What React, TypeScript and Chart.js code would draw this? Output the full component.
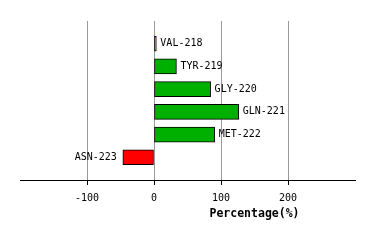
import React, { useEffect, useRef } from "react";
import { Chart, registerables } from "chart.js";

Chart.register(...registerables);

const residues = ["VAL-218", "TYR-219", "GLY-220", "GLN-221", "MET-222", "ASN-223"];
const percentages = [3.5, 33.5, 84.5, 126.5, 90.5, -46.5];
const xTicks = [-100, 0, 100, 200];
const xMin = -200;
const xMax = 300;
const axisTitle = "Percentage(%)";

const labels = ["", ...residues, ""];
const values: (number | null)[] = [null, ...percentages, null];

const barLabelPlugin = {
  id: "barLabels",
  afterDatasetsDraw(chart: any) {
    const ctx = chart.ctx;
    const meta = chart.getDatasetMeta(0);
    ctx.save();
    ctx.font = "10px 'DejaVu Sans Mono'";
    ctx.fillStyle = "#000";
    ctx.textBaseline = "middle";
    meta.data.forEach((el: any, i: number) => {
      const v = values[i];
      if (v === null || v === undefined) return;
      const txt = labels[i];
      if (v >= 0) {
        ctx.textAlign = "left";
        ctx.fillText(txt, el.x + 4, el.y);
      } else {
        ctx.textAlign = "right";
        ctx.fillText(txt, el.x - 6, el.y);
      }
    });
    ctx.restore();
  },
};

const axisTitlePlugin = {
  id: "axisTitle",
  afterDraw(chart: any) {
    const ctx = chart.ctx;
    const xs = chart.scales.x;
    const cx = (xs.getPixelForValue(0) + xs.getPixelForValue(xMax)) / 2;
    ctx.save();
    ctx.font = "bold 11.5px 'DejaVu Sans Mono'";
    ctx.fillStyle = "#000";
    ctx.textAlign = "center";
    ctx.textBaseline = "middle";
    ctx.fillText(axisTitle, cx, chart.chartArea.bottom + 34);
    ctx.restore();
  },
};

export default function App() {
  const ref = useRef<HTMLCanvasElement | null>(null);
  useEffect(() => {
    document.body.style.margin = "0";
    if (!ref.current) return;
    const chart = new Chart(ref.current, {
      type: "bar",
      data: {
        labels,
        datasets: [
          {
            data: values,
            backgroundColor: values.map((v) => (v !== null && v < 0 ? "#ff0000" : "#00b000")),
            borderColor: "#000",
            borderWidth: 1,
            borderSkipped: false,
            barThickness: 15,
          },
        ],
      },
      options: {
        indexAxis: "y",
        animation: false,
        responsive: false,
        maintainAspectRatio: false,
        layout: { padding: { left: 20, right: 19, top: 21, bottom: 0 } },
        plugins: { legend: { display: false }, tooltip: { enabled: false } },
        scales: {
          x: {
            type: "linear",
            min: xMin,
            max: xMax,
            afterBuildTicks: (scale: any) => {
              scale.ticks = xTicks.map((v) => ({ value: v }));
            },
            afterFit: (scale: any) => {
              scale.height = 60;
            },
            grid: {
              color: "#999",
              lineWidth: 1,
              tickColor: "#000",
              tickLength: 5,
              drawOnChartArea: true,
            },
            border: { display: true, color: "#000", width: 1 },
            ticks: {
              color: "#000",
              font: { family: "'DejaVu Sans Mono'", size: 10 },
              padding: 7,
              maxRotation: 0,
              autoSkip: false,
            },
          },
          y: {
            type: "category",
            offset: false,
            display: false,
            grid: { display: false },
          },
        },
      },
      plugins: [barLabelPlugin, axisTitlePlugin],
    });
    return () => chart.destroy();
  }, []);
  return (
    <div style={{ width: 374, height: 240 }}>
      <canvas ref={ref} width={374} height={240} style={{ display: "block" }} />
    </div>
  );
}
